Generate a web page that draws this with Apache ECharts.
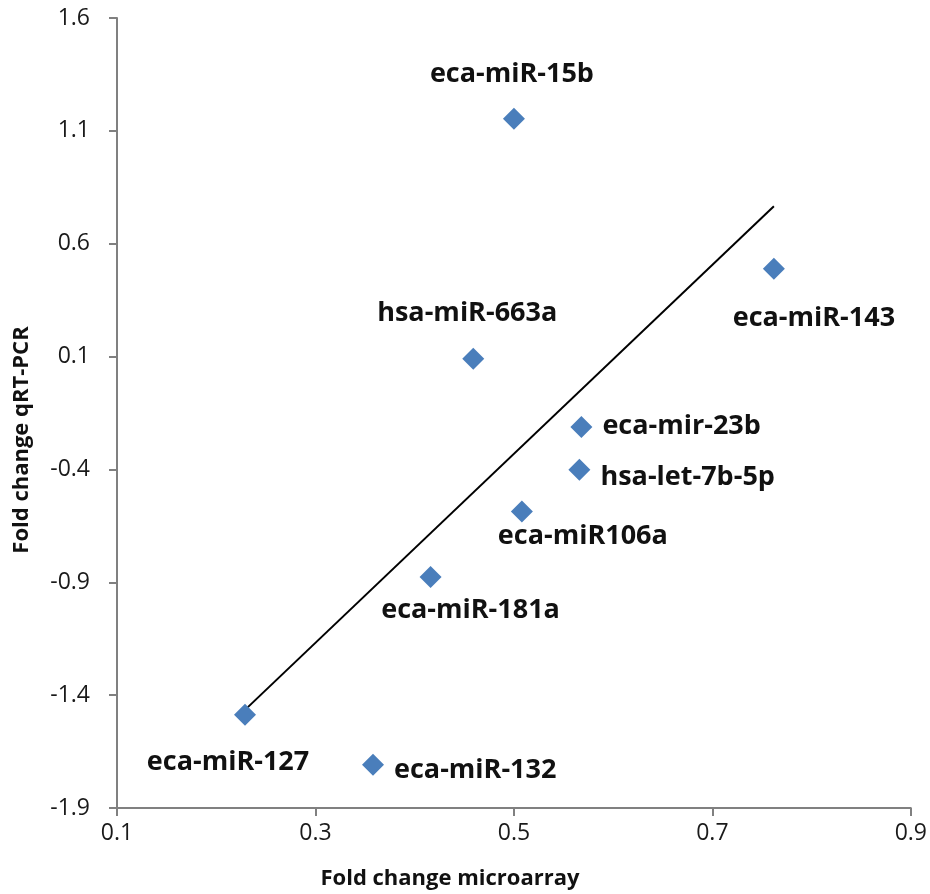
<!DOCTYPE html>
<html>
<head>
<meta charset="utf-8">
<script src="https://cdn.jsdelivr.net/npm/echarts@6/dist/echarts.min.js"></script>
<style>html,body{margin:0;padding:0;background:#fff;}#chart{width:930px;height:894px;}</style>
</head>
<body>
<div id="chart"></div>
<script>
// ---- data ----
const names = ['eca-miR-15b','eca-miR-143','hsa-miR-663a','eca-mir-23b','hsa-let-7b-5p','eca-miR106a','eca-miR-181a','eca-miR-127','eca-miR-132'];
const microarray = [0.500, 0.762, 0.459, 0.568, 0.566, 0.508, 0.416, 0.229, 0.358];
const qrtpcr = [1.154, 0.489, 0.090, -0.212, -0.401, -0.586, -0.877, -1.487, -1.708];
const xTicks = [0.1, 0.3, 0.5, 0.7, 0.9];
const yTicks = [-1.9, -1.4, -0.9, -0.4, 0.1, 0.6, 1.1, 1.6];

// ---- label placement (style) ----
const labelOffsets = [[-2,-44],[40,50],[-6,-46],[null,-1],[null,8],[61,25],[40,33],[-17,48],[null,6]];

// linear regression trendline over data range
const n = microarray.length;
const mx = microarray.reduce((a,b)=>a+b,0)/n;
const my = qrtpcr.reduce((a,b)=>a+b,0)/n;
let sxy=0, sxx=0;
for (let i=0;i<n;i++){ sxy += (microarray[i]-mx)*(qrtpcr[i]-my); sxx += (microarray[i]-mx)**2; }
const slope = sxy/sxx, intercept = my - slope*mx;
const xmin = Math.min(...microarray), xmax = Math.max(...microarray);
const trend = [[xmin, intercept+slope*xmin],[xmax, intercept+slope*xmax]];

const FONT = 'Open Sans';
const pts = names.map((nm,i)=>{
  const off = labelOffsets[i];
  const label = off[0]===null
    ? {show:true, position:'right', distance:10, offset:[0,off[1]]}
    : {show:true, position:'inside', offset:off};
  return {value:[microarray[i], qrtpcr[i]], name:nm, label};
});

const chart = echarts.init(document.getElementById('chart'));
chart.setOption({
  animation:false,
  backgroundColor:'#fff',
  grid:{left:117, right:18, top:18, bottom:86, containLabel:false},
  xAxis:{
    type:'value', min:0.1, max:0.9,
    axisLine:{onZero:false, lineStyle:{color:'#808080', width:2}},
    axisTick:{show:true, length:8, lineStyle:{color:'#808080', width:2}, customValues:xTicks},
    axisLabel:{customValues:xTicks, formatter:v=>v.toFixed(1), color:'#1a1a1a', fontFamily:FONT, fontSize:23, margin:14},
    splitLine:{show:false}
  },
  yAxis:{
    type:'value', min:-1.9, max:1.6,
    axisLine:{show:true, onZero:false, lineStyle:{color:'#808080', width:2}},
    axisTick:{show:true, length:8, lineStyle:{color:'#808080', width:2}, customValues:yTicks},
    axisLabel:{customValues:yTicks, formatter:v=>v.toFixed(1), color:'#1a1a1a', fontFamily:FONT, fontSize:23, margin:27},
    splitLine:{show:false}
  },
  graphic:[
    {type:'text', style:{text:'Fold change microarray', fontFamily:FONT, fontSize:22, fontWeight:'bold', fill:'#111', textAlign:'center', textVerticalAlign:'middle'}, x:450, y:879},
    {type:'text', style:{text:'Fold change qRT-PCR', fontFamily:FONT, fontSize:22, fontWeight:'bold', fill:'#111', textAlign:'center', textVerticalAlign:'middle'}, x:22, y:440, rotation:Math.PI/2}
  ],
  series:[
    {
      type:'line', data:trend, symbol:'none', silent:true,
      lineStyle:{color:'#000', width:2}, z:1
    },
    {
      type:'scatter', data:pts, symbol:'diamond', symbolSize:[22,22],
      itemStyle:{color:'#4a7ebb', opacity:1},
      label:{fontFamily:FONT, fontSize:27, fontWeight:'bold', color:'#111', formatter:'{b}'},
      z:2
    }
  ]
});
</script>
</body>
</html>
